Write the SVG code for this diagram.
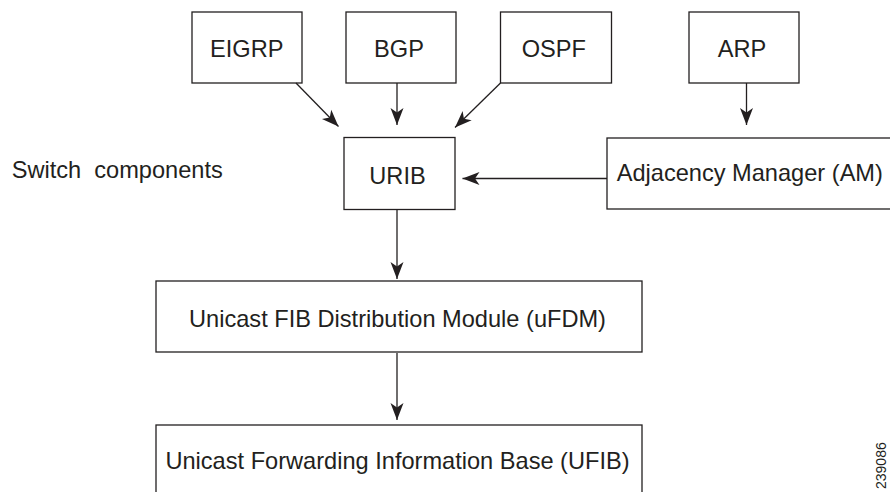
<svg xmlns="http://www.w3.org/2000/svg" width="890" height="492" viewBox="0 0 890 492">
  <style>
    .box { fill: #ffffff; stroke: #231f20; stroke-width: 1.3; }
    .lbl { font-family: "Liberation Sans", Arial, sans-serif; font-size: 23.6px; fill: #231f20; }
    .mid { text-anchor: middle; }
    .conn { stroke: #231f20; stroke-width: 1.3; fill: none; marker-end: url(#arrow); }
  </style>
  <defs>
    <marker id="arrow" markerUnits="userSpaceOnUse" viewBox="-18 -7 19 14" markerWidth="19" markerHeight="14" refX="0" refY="0" orient="auto">
      <path d="M0,0 L-17,-6.5 L-12.5,0 L-17,6.5 Z" fill="#231f20"/>
    </marker>
  </defs>
  <rect x="0" y="0" width="890" height="492" fill="#ffffff"/>

  <text class="lbl" x="11.7" y="178" style="white-space:pre" xml:space="preserve">Switch  components</text>

  <g id="eigrp">
    <rect class="box" x="192" y="12" width="110" height="71"/>
    <text class="lbl mid" x="246.7" y="57">EIGRP</text>
  </g>
  <g id="bgp">
    <rect class="box" x="346" y="12" width="110" height="71"/>
    <text class="lbl mid" x="399" y="57">BGP</text>
  </g>
  <g id="ospf">
    <rect class="box" x="500.5" y="12" width="111" height="71"/>
    <text class="lbl mid" x="553.8" y="57">OSPF</text>
  </g>
  <g id="arp">
    <rect class="box" x="689" y="12" width="110" height="71"/>
    <text class="lbl mid" x="742" y="57">ARP</text>
  </g>
  <g id="urib">
    <rect class="box" x="344" y="137.5" width="111" height="72"/>
    <text class="lbl mid" x="397.5" y="184">URIB</text>
  </g>
  <g id="am">
    <rect class="box" x="607" y="138" width="300" height="71"/>
    <text class="lbl" x="616.7" y="181">Adjacency Manager (AM)</text>
  </g>
  <g id="ufdm">
    <rect class="box" x="156" y="281" width="486" height="71"/>
    <text class="lbl mid" x="397.5" y="326.7">Unicast FIB Distribution Module (uFDM)</text>
  </g>
  <g id="ufib">
    <rect class="box" x="156" y="425" width="486" height="80"/>
    <text class="lbl mid" x="397.5" y="469">Unicast Forwarding Information Base (UFIB)</text>
  </g>

  <g id="connectors">
    <line class="conn" x1="296" y1="83" x2="338.5" y2="126.5"/>
    <line class="conn" x1="397" y1="83" x2="397" y2="125"/>
    <line class="conn" x1="500.5" y1="83" x2="455" y2="127.5"/>
    <line class="conn" x1="746.5" y1="83" x2="746.5" y2="125"/>
    <line class="conn" x1="607" y1="178.5" x2="462.5" y2="178.5"/>
    <line class="conn" x1="397" y1="210" x2="397" y2="279"/>
    <line class="conn" x1="397" y1="353" x2="397" y2="420"/>
  </g>

  <text x="886" y="489" transform="rotate(-90 886 489)" style="font-family:'Liberation Sans', Arial, sans-serif; font-size:14px; fill:#231f20">239086</text>
</svg>
